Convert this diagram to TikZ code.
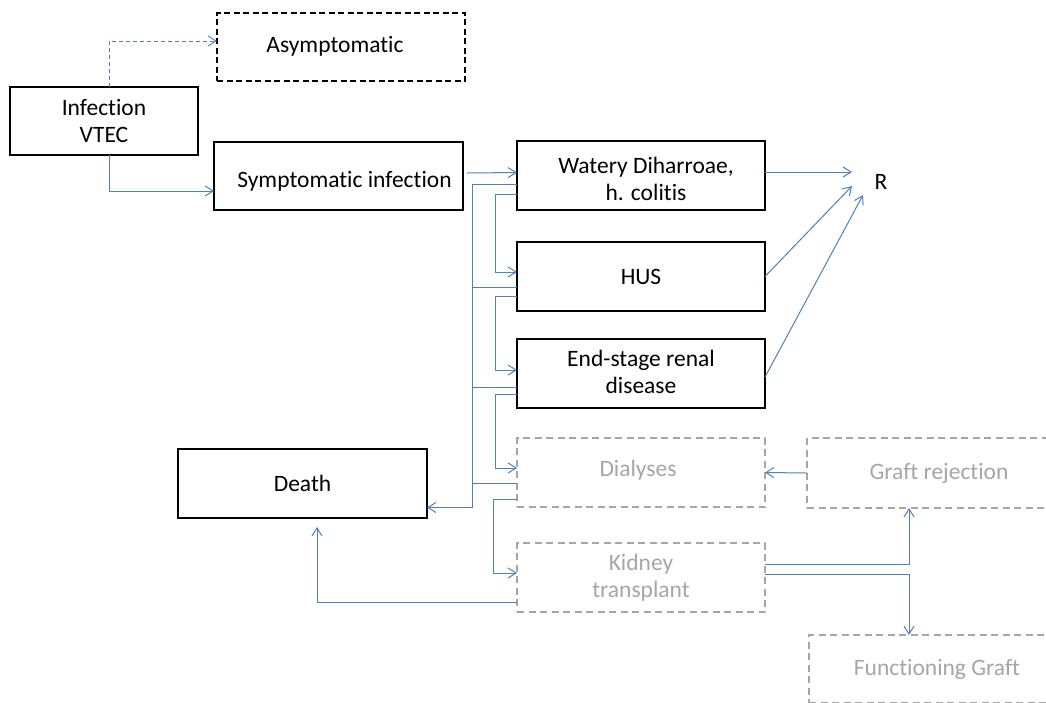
\documentclass[tikz,border=0pt]{standalone}
\usepackage{fontspec}
\setmainfont{Carlito}[Ligatures={NoCommon,NoContextual},Contextuals=NoAlternate]
\usetikzlibrary{arrows.meta,calc}
\definecolor{flowblue}{RGB}{79,129,189}
\definecolor{softgrey}{RGB}{166,166,166}
% shift text inside a node while keeping its box size
\newcommand{\nudge}[2]{\raisebox{#1}[\height][\depth]{\begin{tabular}{@{}c@{}}#2\end{tabular}}}
\tikzset{
  x=1pt, y=-1pt,
  every node/.style={font=\fontsize{23.5}{27}\selectfont, align=center, inner sep=0pt, outer sep=0pt},
  stage/.style={draw=black, line width=1.6pt, rectangle, minimum width=248pt, minimum height=69pt},
  optstage/.style={stage, dash pattern=on 6pt off 3.5pt},
  futstage/.style={stage, draw=softgrey, text=softgrey, dash pattern=on 7pt off 4.5pt},
  flow/.style={draw=flowblue, line width=1pt, -{Straight Barb[length=8pt,width=10pt]}},
  link/.style={draw=flowblue, line width=1pt},
  flowdash/.style={flow, line width=0.9pt, dash pattern=on 4pt off 3pt},
}
\begin{document}
\begin{tikzpicture}
\useasboundingbox (0,0) rectangle (1046,702);
\clip (0,0) rectangle (1046,702);
\fill[white] (0,0) rectangle (1046,702);

% stages of the disease
\node[stage, minimum width=188pt, minimum height=68pt] (inf) at (104,121) {Infection\\VTEC};
\node[optstage, minimum height=68pt] (asym) at (341,47) {\hspace*{-12pt}\nudge{0pt}{Asymptomatic}};
\node[stage, minimum width=249pt, minimum height=68pt] (sym) at (338.5,176) {\hspace*{12pt}\nudge{-6pt}{Symptomatic infection}};
\node[stage] (wat) at (641,175.5) {\hspace*{10pt}\nudge{-6pt}{Watery Diharroae,\\h. colitis}};
\node[stage] (hus) at (641,276.5) {HUS};
\node[stage] (esrd) at (641,373.5) {\nudge{-1pt}{End-stage renal\\disease}};
\node[stage, minimum width=249pt] (death) at (302.5,483.5) {Death};
\node[futstage] (dia) at (641,472.5) {\hspace*{-6pt}\nudge{1pt}{Dialyses}};
\node[futstage] (kid) at (641,577.5) {Kidney\\transplant};
\node[futstage, minimum width=264pt, minimum height=70pt] (rej) at (939,473) {Graft rejection};
\node[futstage, minimum width=256pt, minimum height=68pt] (fun) at (937,669) {Functioning Graft};
\node (R) at (881,182) {R};

% onset of infection
\draw[flowdash] ($(inf.north)+(5,0)$) |- ($(asym.west)+(0,-6)$);
\draw[flow] ($(inf.south)+(5,0)$) |- ($(sym.west)+(0,15)$);
\draw[flow] ($(sym.east)+(4,-3)$) -- ($(wat.west)+(0,-3)$);

% recovery
\draw[flow] ($(wat.east)+(0,-3.5)$) -- ($(R)+(-29,-10)$);
\draw[flow] (hus.east) -- ($(R)+(-29,4)$);
\draw[flow] ($(esrd.east)+(0,3.5)$) -- ($(R)+(-18,13)$);

% progression rail
\draw[flow] ($(wat.west)+(0,18.5)$) -- ++(-22,0) |- ($(hus.west)+(0,-4.5)$);
\draw[flow] ($(hus.west)+(0,19.5)$) -- ++(-22,0) |- ($(esrd.west)+(0,-3.5)$);
\draw[flow] ($(esrd.west)+(0,20.5)$) -- ++(-22,0) |- ($(dia.west)+(0,-4.5)$);
\draw[flow] ($(dia.west)+(0,26.5)$) -- ++(-24,0) |- ($(kid.west)+(0,-4.5)$);

% death rail
\draw[flow] ($(wat.west)+(0,8.5)$) -- ++(-45,0) |- ($(death.east)+(0,24)$);
\draw[link] ($(hus.west)+(0,10.5)$) -- ++(-45,0);
\draw[link] ($(esrd.west)+(0,13.5)$) -- ++(-45,0);
\draw[link] ($(dia.west)+(0,10.5)$) -- ++(-45,0);
\draw[flow, shorten >=9pt] ($(kid.west)+(0,24.5)$) -| ($(death.south)+(14.5,0)$);

% transplant outcomes
\draw[flow] ($(kid.east)+(0,-13.5)$) -| ($(rej.south)+(-30,0)$);
\draw[flow] ($(kid.east)+(0,-3.5)$) -| ($(fun.north)+(-28,0)$);
\draw[flow] (rej.west) -- (dia.east);
\end{tikzpicture}
\end{document}
